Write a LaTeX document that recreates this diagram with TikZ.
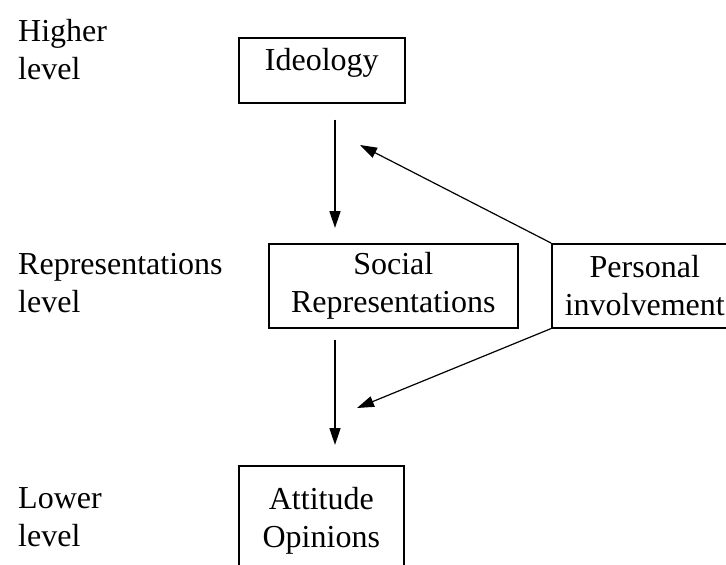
\documentclass[tikz,border=0pt]{standalone}
\usepackage{fontspec}
\setmainfont{Liberation Serif}
\usetikzlibrary{arrows.meta}

\begin{document}
\begin{tikzpicture}[x=1pt,y=-1pt,
  levelbox/.style={draw, line width=1.6pt, align=center, inner sep=0pt, anchor=north west},
  leveltext/.style={align=left, inner sep=0pt, anchor=base west},
  arr/.style={line width=1.6pt, -{Triangle[length=17pt,width=11pt]}},
  slant/.style={line width=1.2pt, -{Triangle[length=17pt,width=11pt]}},
  every node/.style={font=\fontsize{32}{38}\selectfont}]
\useasboundingbox (0,0) rectangle (726,565);
\clip (0,0) rectangle (726,565);

%Text Nodes: levels (base = last line)
\node[leveltext] (higher) at (18,79) {Higher\\level};
\node[leveltext] (middle) at (18,312) {Representations\\level};
\node[leveltext] (lower) at (18,546) {Lower\\level};

%Shape: Rectangle
\node[levelbox, minimum width=166pt, minimum height=65pt, text height=9pt, text depth=9pt] (ideo) at (238,37) {Ideology};
%Shape: Rectangle
\node[levelbox, minimum width=249pt, minimum height=84pt] (socrep) at (268,243) {Social\\Representations};
%Shape: Rectangle
\node[levelbox, minimum width=186pt, minimum height=84pt] (persinv) at (551,243) {Personal\\involvement};
%Shape: Rectangle
\node[levelbox, minimum width=165pt, minimum height=110pt] (attit) at (238,465) {Attitude\\Opinions};

\coordinate (axis) at (335,0);
\coordinate (uptip) at (360,145);
\coordinate (lowtip) at (357,408);

%Straight Lines
\draw[arr] ([yshift=-16pt]ideo.south -| axis) -- ([yshift=15pt]socrep.north -| axis);
\draw[arr] ([yshift=-11pt]socrep.south -| axis) -- ([yshift=20pt]attit.north -| axis);
%Straight Lines
\draw[slant] (persinv.north west) -- (uptip);
\draw[slant] (persinv.south west) -- (lowtip);

\end{tikzpicture}
\end{document}
